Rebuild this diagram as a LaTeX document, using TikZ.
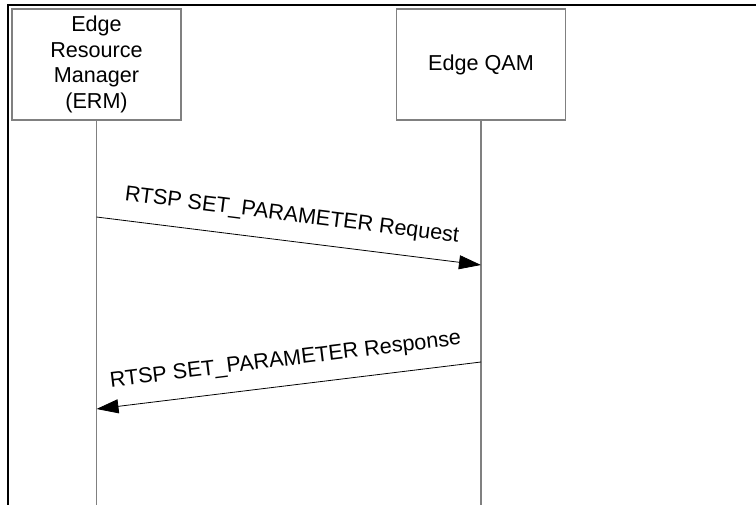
\documentclass[tikz,border=0pt]{standalone}
\usepackage{fontspec}
\setmainfont{Liberation Sans}
\usetikzlibrary{arrows.meta}
\tikzset{
  entity/.style={draw=gray,line width=1.5pt,minimum width=169pt,minimum height=111pt,
    align=center,font=\fontsize{21.6}{25.8}\selectfont},
  lifeline/.style={gray,line width=1.5pt},
  msg/.style={-{Triangle[length=22pt,width=14pt]},line width=0.8pt},
  msglabel/.style={sloped,midway,above=13pt,inner sep=2pt,font=\fontsize{21.6}{25.8}\selectfont}
}
\begin{document}
\begin{tikzpicture}[x=1pt,y=-1pt]
                \useasboundingbox (0,0) rectangle (756,505);
                \draw [line width=2pt,line join=miter] (8,505) -- (8,5) -- (756,5);
                % the two parties
                \node [entity] (erm) at (96.5,64.5) {Edge\\Resource\\Manager\\(ERM)};
                \node [entity] (qam) at (481,64.5) {Edge QAM};
                \coordinate (ermend) at (96.5,505);
                \coordinate (qamend) at (481,505);
                \draw [lifeline] (erm) -- (ermend);
                \draw [lifeline] (qam) -- (qamend);
                % messages
                \coordinate (reqfrom) at (96.5,217);
                \coordinate (reqto) at (481,265);
                \coordinate (respfrom) at (481,362);
                \coordinate (respto) at (96.5,409);
                \draw [msg] (reqfrom) -- (reqto) node [msglabel] (req) {RTSP SET\_PARAMETER Request};
                \draw [msg] (respfrom) -- (respto) node [msglabel] (resp) {RTSP SET\_PARAMETER Response};
\end{tikzpicture}
\end{document}
